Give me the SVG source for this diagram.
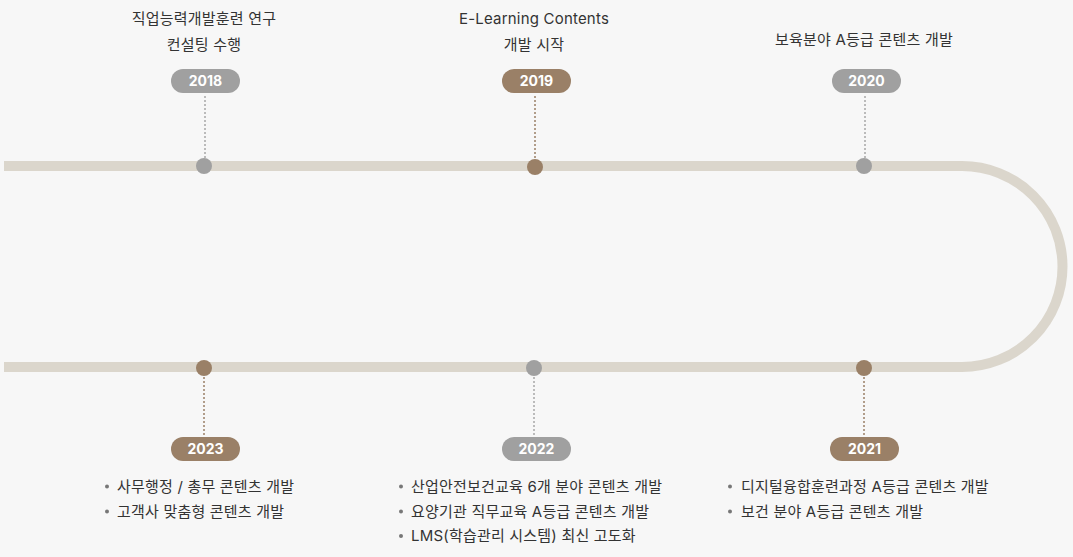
<svg xmlns="http://www.w3.org/2000/svg" width="1073" height="557" viewBox="0 0 1073 557">
<style>
.t{font-family:Inter,"Noto Sans CJK KR",sans-serif;font-size:15px;letter-spacing:0.2px;fill:#333;}
.c{text-anchor:middle;}
.y{font-family:Inter,"Noto Sans",sans-serif;font-size:14px;font-weight:bold;fill:#fff;text-anchor:middle;}
.pg{fill:#a0a0a0;}
.pb{fill:#9a8067;}
.dg{stroke:#a8a8a8;stroke-width:1.5;stroke-dasharray:2 2;fill:none;}
.db{stroke:#9a8067;stroke-width:1.5;stroke-dasharray:2 2;fill:none;}
.b{fill:#777;}
</style>
<rect width="1073" height="557" fill="#f7f7f7"/>
<g id="connectors">
<path d="M4 166 H962 A100.5 100.5 0 0 1 962 367 H4" fill="none" stroke="#dbd6cc" stroke-width="10"/>
<line class="dg" x1="205" y1="96" x2="205" y2="160"/>
<line class="db" x1="535" y1="96" x2="535" y2="160"/>
<line class="dg" x1="865" y1="96" x2="865" y2="160"/>
<line class="db" x1="204" y1="373" x2="204" y2="436"/>
<line class="dg" x1="534" y1="373" x2="534" y2="436"/>
<line class="db" x1="864" y1="373" x2="864" y2="436"/>
</g>
<g id="n2018">
<text class="t c" x="204" y="24">직업능력개발훈련 연구</text>
<text class="t c" x="204" y="50">컨설팅 수행</text>
<rect class="pg" x="171" y="69" width="69" height="24" rx="12"/>
<text class="y" x="205.5" y="86">2018</text>
<circle class="pg" cx="204" cy="166" r="8"/>
</g>
<g id="n2019">
<text class="t c" x="534" y="24">E-Learning Contents</text>
<text class="t c" x="534" y="50">개발 시작</text>
<rect class="pb" x="502" y="69" width="69" height="24" rx="12"/>
<text class="y" x="536.5" y="86">2019</text>
<circle class="pb" cx="535" cy="167" r="8"/>
</g>
<g id="n2020">
<text class="t c" x="864" y="45">보육분야 A등급 콘텐츠 개발</text>
<rect class="pg" x="832" y="69" width="69" height="24" rx="12"/>
<text class="y" x="866.5" y="86">2020</text>
<circle class="pg" cx="864" cy="166" r="8"/>
</g>
<g id="n2023">
<circle class="pb" cx="204" cy="368" r="8"/>
<rect class="pb" x="171" y="437" width="69" height="24" rx="12"/>
<text class="y" x="205.5" y="454">2023</text>
<circle class="b" cx="107" cy="486.5" r="2"/>
<text class="t" x="117" y="492">사무행정 / 총무 콘텐츠 개발</text>
<circle class="b" cx="107" cy="511.5" r="2"/>
<text class="t" x="117" y="517">고객사 맞춤형 콘텐츠 개발</text>
</g>
<g id="n2022">
<circle class="pg" cx="534" cy="368" r="8"/>
<rect class="pg" x="502" y="437" width="69" height="24" rx="12"/>
<text class="y" x="536.5" y="454">2022</text>
<circle class="b" cx="401" cy="486.5" r="2"/>
<text class="t" x="411" y="492">산업안전보건교육 6개 분야 콘텐츠 개발</text>
<circle class="b" cx="401" cy="511.5" r="2"/>
<text class="t" x="411" y="517">요양기관 직무교육 A등급 콘텐츠 개발</text>
<circle class="b" cx="401" cy="536" r="2"/>
<text class="t" x="411" y="541">LMS(학습관리 시스템) 최신 고도화</text>
</g>
<g id="n2021">
<circle class="pb" cx="864" cy="368" r="8"/>
<rect class="pb" x="830" y="437" width="69" height="24" rx="12"/>
<text class="y" x="864.5" y="454">2021</text>
<circle class="b" cx="730" cy="486.5" r="2"/>
<text class="t" x="741" y="492">디지털융합훈련과정 A등급 콘텐츠 개발</text>
<circle class="b" cx="730" cy="511.5" r="2"/>
<text class="t" x="741" y="517">보건 분야 A등급 콘텐츠 개발</text>
</g>
</svg>
